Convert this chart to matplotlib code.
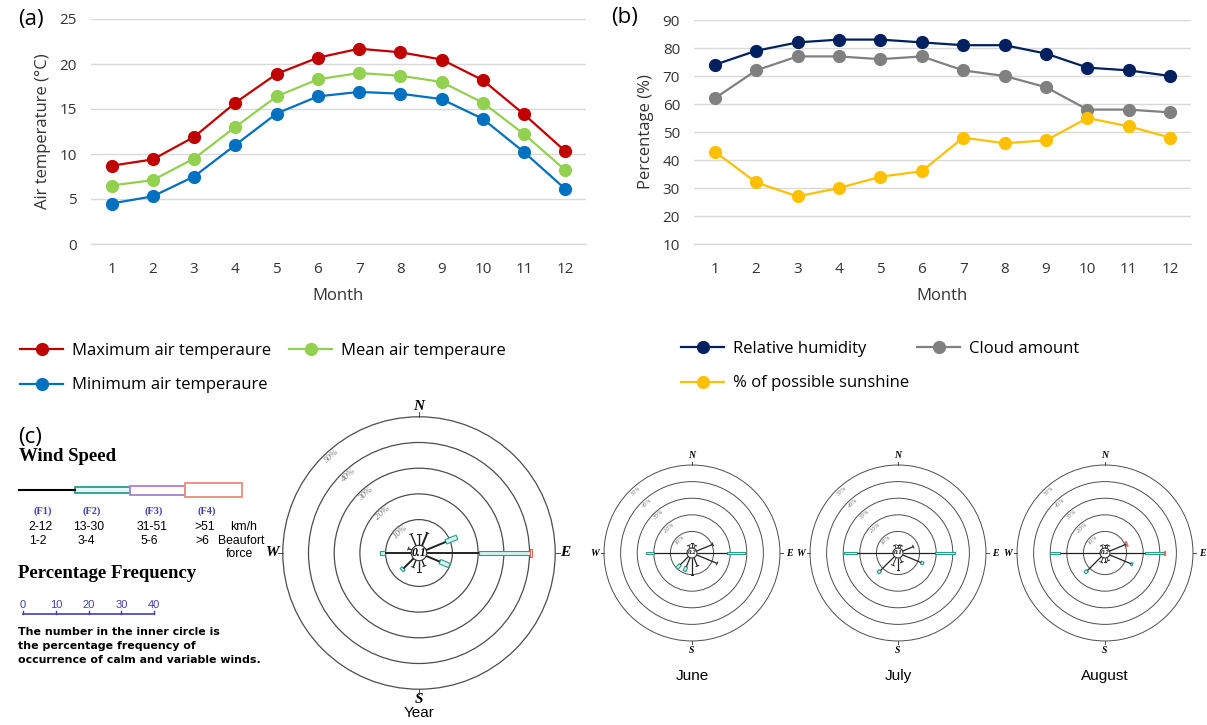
import numpy as np
import matplotlib
matplotlib.use('Agg')
import matplotlib.pyplot as plt
from matplotlib.patches import Circle, Polygon, Rectangle

# ---- (a) air temperature ----
months = list(range(1, 13))
t_max = [8.7, 9.4, 11.9, 15.7, 18.9, 20.7, 21.7, 21.3, 20.5, 18.2, 14.4, 10.3]
t_mean = [6.5, 7.1, 9.5, 13.0, 16.4, 18.3, 19.0, 18.7, 18.0, 15.7, 12.2, 8.2]
t_min = [4.5, 5.3, 7.5, 11.0, 14.5, 16.4, 16.9, 16.7, 16.1, 13.9, 10.2, 6.1]

# ---- (b) percentages ----
rel_hum = [74, 79, 82, 83, 83, 82, 81, 81, 78, 73, 72, 70]
cloud = [62, 72, 77, 77, 76, 77, 72, 70, 66, 58, 58, 57]
sunshine = [43, 32, 27, 30, 34, 36, 48, 46, 47, 55, 52, 48]

# ---- (c) wind roses, % frequency per direction (N, NNE, ... NNW) ----
directions = ['N', 'NNE', 'NE', 'ENE', 'E', 'ESE', 'SE', 'SSE',
              'S', 'SSW', 'SW', 'WSW', 'W', 'WNW', 'NW', 'NNW']
year_f1 = [4.5, 5.5, 0, 8.3, 20.5, 5.8, 0, 2.5, 4.4, 3.0, 5.5, 0, 10.2, 1.5, 0, 5.0]
year_f2 = [0, 0, 0, 4.7, 19.5, 4.0, 0, 0, 0, 0, 1.0, 0, 2.0, 0, 0, 0]
year_f3 = [0] * 16
year_f4 = [0, 0, 0, 0, 1.0, 0, 0, 0, 0, 0, 0, 0, 0, 0, 0, 0]
year_calm = '0.1'

june_f1 = [3.0, 2.0, 0, 10.6, 18.3, 13.4, 0, 5.5, 10.4, 6.0, 7.0, 0, 19.6, 0, 0, 2.0]
june_f2 = [0, 0, 0, 0, 10.4, 0, 0, 0, 0, 2.8, 3.0, 0, 4.9, 0, 0, 0]
june_f3 = [0] * 16
june_f4 = [0] * 16
june_calm = '0.2'

july_f1 = [2.0, 2.0, 0, 7.0, 19.0, 12.0, 0, 3.0, 7.0, 5.0, 12.0, 0, 21.4, 0, 0, 2.0]
july_f2 = [0, 0, 0, 0, 12.2, 1.6, 0, 0, 0, 0, 2.0, 0, 8.0, 0, 0, 0]
july_f3 = [0] * 16
july_f4 = [0] * 16
july_calm = '0.1'

aug_f1 = [2.0, 2.0, 0, 10.7, 20.8, 14.0, 0, 2.0, 2.5, 3.0, 12.0, 0, 24.4, 0, 0, 2.0]
aug_f2 = [0, 0, 0, 0, 11.6, 1.0, 0, 0, 0, 0, 2.0, 0, 6.0, 0, 0, 0]
aug_f3 = [0] * 16
aug_f4 = [0, 0, 0, 0.8, 0.5, 0, 0, 0, 0, 0, 0, 0, 0, 0, 0, 0]
aug_calm = '0.2'

speed_classes = ['(F1)', '(F2)', '(F3)', '(F4)']
speed_kmh = ['2-12', '13-30', '31-51', '>51']
speed_beaufort = ['1-2', '3-4', '5-6', '>6']
freq_scale = [0, 10, 20, 30, 40]

W, H = 1207, 725
fig = plt.figure(figsize=(W / 100, H / 100), dpi=100)
fig.patch.set_facecolor('white')
plt.rcParams['font.family'] = ['Open Sans', 'DejaVu Sans']


def px_axes(l, t, r, b, **kw):
    return fig.add_axes([l / W, 1 - b / H, (r - l) / W, (b - t) / H], **kw)


# overlay axes in pixel coordinates for the (c) key
ov = px_axes(0, 0, W, H)
ov.set_xlim(0, W)
ov.set_ylim(H, 0)
ov.axis('off')

grid_c = '#d9d9d9'


def style_line_axes(ax):
    for s in ['left', 'right', 'top']:
        ax.spines[s].set_visible(False)
    ax.spines['bottom'].set_color(grid_c)
    ax.spines['bottom'].set_linewidth(1.0)
    ax.grid(axis='y', color=grid_c, linewidth=1.0)
    ax.set_axisbelow(True)
    ax.tick_params(length=0, labelsize=11, colors='#333333')
    ax.tick_params(axis='y', pad=10)
    ax.tick_params(axis='x', pad=13)
    ax.set_xticks(months)
    ax.set_xlim(0.5, 12.5)
    ax.set_xlabel('Month', fontsize=12, labelpad=8, color='#333333')


mk = dict(marker='o', markersize=8.5, linewidth=1.6)
leg_kw = dict(loc='upper left', ncol=2, frameon=False, fontsize=12, handlelength=2.6,
              handletextpad=0.5, labelspacing=1.1, borderpad=0, borderaxespad=0)

# (a)
ax_a = px_axes(91, 19, 586, 244)
la1, = ax_a.plot(months, t_max, color='#C00000', **mk)
la2, = ax_a.plot(months, t_mean, color='#92D050', **mk)
la3, = ax_a.plot(months, t_min, color='#0070C0', **mk)
ax_a.set_ylim(0, 25)
ax_a.set_yticks([0, 5, 10, 15, 20, 25])
style_line_axes(ax_a)
ax_a.set_ylabel('Air temperature (°C)', fontsize=12, labelpad=6, color='#333333')
fig.text(18 / W, 1 - 20 / H, '(a)', fontsize=16, va='center', ha='left')
fig.legend([la1, la3, la2],
           ['Maximum air temperaure', 'Minimum air temperaure', 'Mean air temperaure'],
           bbox_to_anchor=(20 / W, 1 - 343 / H), columnspacing=1.1, **leg_kw)

# (b)
ax_b = px_axes(694, 20, 1191, 244)
lb1, = ax_b.plot(months, rel_hum, color='#002060', **mk)
lb2, = ax_b.plot(months, cloud, color='#808080', **mk)
lb3, = ax_b.plot(months, sunshine, color='#FFC000', **mk)
ax_b.set_ylim(10, 90)
ax_b.set_yticks(range(10, 91, 10))
style_line_axes(ax_b)
ax_b.set_ylabel('Percentage (%)', fontsize=12, labelpad=6, color='#333333')
fig.text(611 / W, 1 - 18 / H, '(b)', fontsize=16, va='center', ha='left')
fig.legend([lb1, lb3, lb2],
           ['Relative humidity', '% of possible sunshine', 'Cloud amount'],
           bbox_to_anchor=(681 / W, 1 - 341 / H), columnspacing=0.5, **leg_kw)

# (c) key
fig.text(18 / W, 1 - 437 / H, '(c)', fontsize=16, va='center', ha='left')
serif = ['Liberation Serif', 'DejaVu Serif']
key_c = '#4040b0'
ov.text(19, 456, 'Wind Speed', family=serif, fontweight='bold', fontsize=13.5, va='center')
ov.plot([19, 75], [490, 490], color='black', lw=1.5)
ov.add_patch(Rectangle((75, 487), 55, 6, fc='#e8f6f3', ec='#2a9d8f', lw=1.3))
ov.add_patch(Rectangle((130, 485.5), 55, 9, fc='white', ec='#a97fd6', lw=1.3))
ov.add_patch(Rectangle((185, 483), 57, 14, fc='white', ec='#ee8a80', lw=1.3))
kx = [43, 92, 154, 207]
kx2 = [41, 89, 152, 205]
for x, s in zip(kx, speed_classes):
    ov.text(x, 511, s, family=serif, fontweight='bold', fontsize=7.5, color=key_c,
            ha='center', va='center')
for x, s in zip(kx2, speed_kmh):
    ov.text(x, 527, s, family=['Liberation Sans'], fontsize=8.8, ha='center', va='center')
for x, s in zip(kx2, speed_beaufort):
    ov.text(x - 3, 541, s, family=['Liberation Sans'], fontsize=8.8, ha='center', va='center')
ov.text(230, 527, 'km/h', family=['Liberation Sans'], fontsize=8.8, va='center')
ov.text(218, 541, 'Beaufort', family=['Liberation Sans'], fontsize=8.8, va='center')
ov.text(226, 554, 'force', family=['Liberation Sans'], fontsize=8.8, va='center')
ov.text(18, 574, 'Percentage Frequency', family=serif, fontweight='bold', fontsize=13.5,
        va='center')
sx = [23 + v * 3.28 for v in freq_scale]
ov.plot([sx[0], sx[-1]], [614, 614], color=key_c, lw=1.2)
for x, v in zip(sx, freq_scale):
    ov.plot([x, x], [614, 610.5], color=key_c, lw=1.0)
    ov.text(x, 605, str(v), family=['Liberation Sans'], fontsize=8, color=key_c,
            ha='center', va='center')
for i, s in enumerate(['The number in the inner circle is',
                       'the percentage frequency of',
                       'occurrence of calm and variable winds.']):
    ov.text(18, 632 + 14 * i, s, family=['DejaVu Sans'], fontweight='bold', fontsize=7.9,
            va='center')


# wind roses
def draw_rose(cx, cy, scale, half, f1, f2, f3, f4, calm, title, title_y, big):
    ax = px_axes(cx - half, cy - half, cx + half, cy + half)
    lim = half / scale
    ax.set_xlim(-lim, lim)
    ax.set_ylim(-lim, lim)
    ax.set_aspect('equal')
    ax.axis('off')
    r0 = 3.0
    ring_lw = 0.9 if big else 0.7
    for k in range(1, 6):
        ax.add_patch(Circle((0, 0), r0 + 10 * k, fill=False, ec='#4d4d4d', lw=ring_lw))
        a = np.radians(132)
        rr = r0 + 10 * k - (2.0 if big else 2.4)
        ax.text(rr * np.cos(a), rr * np.sin(a), '%d%%' % (10 * k), rotation=42,
                fontsize=6.5 if big else 4.5, color='#777777', style='italic',
                family=serif, ha='center', va='center')
    ax.add_patch(Circle((0, 0), r0, fill=False, ec='#333333', lw=0.8))
    ax.text(0, 0, calm, family=serif, fontweight='bold', style='italic',
            fontsize=8.5 if big else 5, ha='center', va='center')
    rout = r0 + 50
    for lab, ang in [('N', 90), ('E', 0), ('S', 270), ('W', 180)]:
        a = np.radians(ang)
        u = np.array([np.cos(a), np.sin(a)])
        ax.plot([rout * u[0], (rout + 1.8) * u[0]], [rout * u[1], (rout + 1.8) * u[1]],
                color='#4d4d4d', lw=0.7)
        d = 4.0 if big else 5.5
        ax.text((rout + d) * u[0], (rout + d) * u[1], lab, family=serif,
                fontweight='bold', style='italic', fontsize=11 if big else 7,
                ha='center', va='center')
    arm_lw = 1.4 if big else 0.9
    for i in range(16):
        a = np.radians(90 - 22.5 * i)
        u = np.array([np.cos(a), np.sin(a)])
        n = np.array([-np.sin(a), np.cos(a)])
        total = f1[i] + f2[i] + f3[i] + f4[i]
        if total <= 0:
            continue
        r = r0
        if f1[i] > 0:
            p0, p1 = r * u, (r + f1[i]) * u
            w = arm_lw if f1[i] > 5 else arm_lw * 0.7
            ax.plot([p0[0], p1[0]], [p0[1], p1[1]], color='#222222', lw=w,
                    solid_capstyle='butt')
            r += f1[i]
        for val, hw, ec, fc in [(f2[i], 0.9, '#2a9d8f', '#d6f0ec'),
                                (f3[i], 1.2, '#a97fd6', '#f3ecfb'),
                                (f4[i], 1.5, '#e0645a', '#ffffff')]:
            if val > 0:
                pts = [r * u + hw * n, (r + val) * u + hw * n,
                       (r + val) * u - hw * n, r * u - hw * n]
                ax.add_patch(Polygon(pts, closed=True, fc=fc, ec=ec, lw=0.8))
                r += val
        if f2[i] + f3[i] + f4[i] == 0:
            c = 0.6 if big else 0.9
            q0, q1 = r * u + c * n, r * u - c * n
            ax.plot([q0[0], q1[0]], [q0[1], q1[1]], color='#222222', lw=0.7)
    fig.text(cx / W, 1 - title_y / H, title, family=['Liberation Sans'], fontsize=11,
             ha='center', va='center')


draw_rose(419, 553, 2.57, 152, year_f1, year_f2, year_f3, year_f4, year_calm, 'Year', 713, True)
draw_rose(692, 553, 1.66, 102, june_f1, june_f2, june_f3, june_f4, june_calm, 'June', 676, False)
draw_rose(898, 553, 1.66, 102, july_f1, july_f2, july_f3, july_f4, july_calm, 'July', 676, False)
draw_rose(1105, 553, 1.66, 102, aug_f1, aug_f2, aug_f3, aug_f4, aug_calm, 'August', 676, False)

fig.savefig('out.png', dpi=100, facecolor='white')
